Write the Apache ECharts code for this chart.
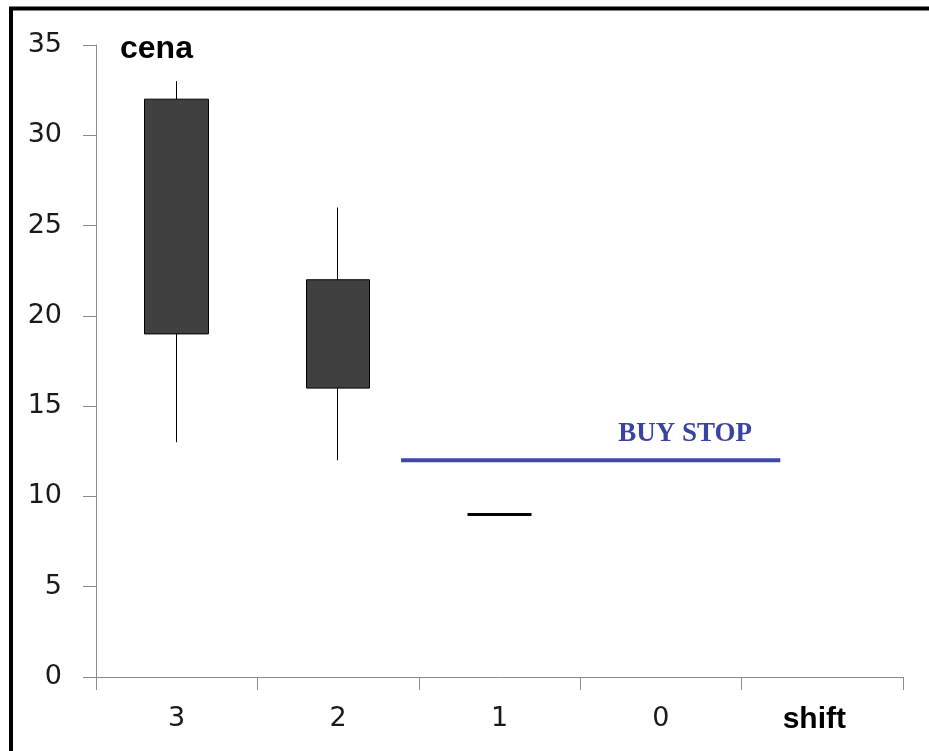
<!DOCTYPE html>
<html>
<head>
<meta charset="utf-8">
<script src="https://cdn.jsdelivr.net/npm/echarts@6/dist/echarts.min.js"></script>
<style>
html, body { margin: 0; padding: 0; background: #fff; }
#chart { width: 929px; height: 751px; }
</style>
</head>
<body>
<div id="chart"></div>
<script>
// ---- data ----
const categories = ['3', '2', '1', '0', 'shift'];
// [open, close, low, high]
const candle3 = [32, 19, 13, 33];
const candle2 = [22, 16, 12, 26];
const candle1 = [9, 9, 9, 9];
const yMin = 0, yMax = 35, yStep = 5;
const buyStopLevel = 12;
const buyStopFrom = 1.89;   // position along the category span (0..5)
const buyStopTo = 4.24;
const buyStopLabelAt = 3.65;
const buyStopText = 'BUY STOP';
const yName = 'cena';

const chart = echarts.init(document.getElementById('chart'), null, { renderer: 'canvas' });

const axisGray = '#8a8a8a';
const option = {
  animation: false,
  backgroundColor: '#fff',
  grid: { left: 96, right: 26, top: 45, bottom: 74 },
  xAxis: [{
    type: 'category',
    data: categories,
    boundaryGap: true,
    axisLine: { show: true, lineStyle: { color: axisGray, width: 1 } },
    axisTick: { show: true, length: 13, lineStyle: { color: axisGray } },
    splitLine: { show: false },
    axisLabel: {
      margin: 28,
      fontSize: 27,
      fontFamily: 'DejaVu Sans',
      color: '#1a1a1a',
      formatter: function (v) { return v === 'shift' ? '{b|' + v + '}' : v; },
      rich: {
        b: { fontSize: 30, fontWeight: 'bold', fontFamily: 'Liberation Sans', color: '#000', padding: [0, 16, 0, 0] }
      }
    }
  }, {
    type: 'value', min: 0, max: categories.length, show: false
  }],
  yAxis: {
    type: 'value',
    min: yMin, max: yMax, interval: yStep,
    axisLine: { show: true, lineStyle: { color: axisGray, width: 1 } },
    axisTick: { show: true, length: 13, lineStyle: { color: axisGray } },
    splitLine: { show: false },
    axisLabel: { margin: 34, fontSize: 27, fontFamily: 'DejaVu Sans', color: '#1a1a1a' }
  },
  series: [{
    type: 'candlestick',
    xAxisIndex: 0,
    barWidth: 64,
    data: [
      candle3,
      candle2,
      { value: candle1, itemStyle: { borderWidth: 3 } },
      '-',
      '-'
    ],
    itemStyle: {
      color: '#404040', color0: '#404040',
      borderColor: '#000', borderColor0: '#000',
      borderWidth: 1
    }
  }, {
    type: 'line',
    xAxisIndex: 1,
    data: [[buyStopFrom, buyStopLevel], [buyStopTo, buyStopLevel]],
    symbol: 'none',
    lineStyle: { color: '#4049ab', width: 4 },
    silent: true
  }, {
    type: 'scatter',
    xAxisIndex: 1,
    data: [[buyStopLabelAt, buyStopLevel]],
    symbolSize: 0,
    itemStyle: { opacity: 1 },
    label: {
      show: true, position: 'top', distance: 13,
      formatter: buyStopText,
      fontFamily: 'Liberation Serif', fontWeight: 'bold', fontSize: 27, color: '#3a43a4', opacity: 1
    },
    silent: true
  }],
  graphic: [{
    type: 'text',
    style: { text: yName, x: 120, y: 49, font: 'bold 32px "Liberation Sans"', fill: '#000', verticalAlign: 'middle' }
  }, {
    type: 'polyline',
    shape: { points: [[11, 760], [11, 8.5], [940, 8.5]] },
    style: { stroke: '#000', lineWidth: 4, fill: null }
  }]
};
chart.setOption(option);
</script>
</body>
</html>
